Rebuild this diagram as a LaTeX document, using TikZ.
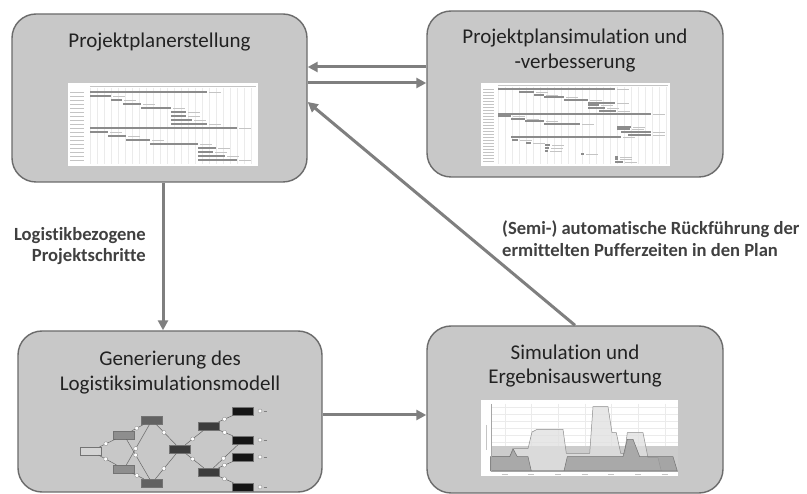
\documentclass[tikz,border=0pt]{standalone}
\usepackage{fontspec}
\setmainfont{Carlito}[Ligatures=NoCommon]
\usetikzlibrary{arrows.meta}
\definecolor{boxfill}{HTML}{C8C8C8}
\definecolor{boxline}{HTML}{6B6B6B}
\definecolor{arrowgray}{HTML}{7F7F7F}
\definecolor{titletext}{HTML}{222222}
\definecolor{lbltext}{HTML}{404040}
\definecolor{barcol}{HTML}{8C8C8C}
\definecolor{gridcol}{HTML}{EBEBEB}
\definecolor{txtline}{HTML}{C4C4C4}
\definecolor{nA}{HTML}{D4D4D4}
\definecolor{nB}{HTML}{8E8E8E}
\definecolor{nC}{HTML}{626262}
\definecolor{nD}{HTML}{3C3C3C}
\definecolor{nE}{HTML}{151515}
\begin{document}
\begin{tikzpicture}[x=1pt,y=-1pt,
  box/.style={draw=boxline, line width=1.4pt, fill=boxfill, rounded corners=24pt, inner sep=0pt},
  title/.style={anchor=base, text=titletext, font=\fontsize{21}{25}\selectfont, inner sep=0pt},
  lbl/.style={text=lbltext, font=\bfseries\fontsize{18.6}{22}\selectfont, inner sep=0pt},
  conn/.style={draw=arrowgray, line width=3pt, -{Triangle[length=10pt,width=10pt]}},
  bar/.style={fill=barcol, draw=none},
  netnode/.style={minimum width=21pt, minimum height=8pt, inner sep=0pt, draw=black!55, line width=0.3pt},
  netedge/.style={draw=black!60, line width=0.5pt},
  circ/.style={circle, draw=black!50, fill=white, line width=0.3pt, minimum size=4pt, inner sep=0pt}]
\useasboundingbox (0,0) rectangle (807,494);
\fill[white] (0,0) rectangle (807,494);

% boxes
\node[box, minimum width=295pt, minimum height=168pt] (b1) at (159.5,98) {};
\node[box, minimum width=296pt, minimum height=166pt] (b2) at (575,94) {};
\node[box, minimum width=304pt, minimum height=161pt] (b3) at (170,411.5) {};
\node[box, minimum width=296pt, minimum height=167pt] (b4) at (575,409.5) {};

% titles
\node[title] (t1) at (159.5,48) {Projektplanerstellung};
\node[title] (t2a) at (575,44) {Projektplansimulation und};
\node[title] (t2b) at (575,69) {-verbesserung};
\node[title] (t3a) at (170,366) {Generierung des};
\node[title] (t3b) at (170,391) {Logistiksimulationsmodell};
\node[title] (t4a) at (575,360) {Simulation und};
\node[title] (t4b) at (575,384) {Ergebnisauswertung};

% ---------- Gantt 1 ----------
\fill[white] (68,83) rectangle (258,166);
\foreach \x in {90,97,...,256} \draw[gridcol, line width=0.3pt] (\x,88) -- (\x,164);
\draw[txtline, line width=0.4pt] (90,86) -- (256,86);
\foreach \y in {92,96,...,160} \draw[txtline, line width=0.8pt] (70,\y) -- (84,\y);
\foreach \y/\a/\b in {92/90/207,96/90/111,100/111/122,104/123/141,108/141/171,112/171/186,116/171/186,120/171/192,124/171/207,128/90/237,132/90/108,136/108/126,140/126/150,144/150/198,148/198/216,152/198/213,156/198/225,160/198/237}
{
  \fill[barcol] (\a,\y-1.2) rectangle (\b,\y+1.2);
  \draw[txtline, line width=0.7pt] (\b+2,\y) -- (\b+14,\y);
}

% ---------- Gantt 2 ----------
\fill[white] (481,83) rectangle (670,166);
\foreach \x in {498,505,...,668} \draw[gridcol, line width=0.3pt] (\x,87) -- (\x,164);
\draw[txtline, line width=0.4pt] (498,85) -- (668,85);
\foreach \y in {89,92,...,162} \draw[txtline, line width=0.6pt] (483,\y) -- (494,\y);
\foreach \y/\a/\b in {89/498/615,92/519/534,95/534/544,97/544/564,100/564/588,103/588/615,105/588/599,108/588/605,111/599/616,114/498/651,116/498/511,119/511/525,121/525/544,124/544/580,127/617/631,129/617/630,132/621/651,135/628/651,137/511/621,140/512/518,143/526/531,145/545/550,148/545/549,151/545/548,154/581/584,157/615/618,159/615/618,162/615/623}
{
  \fill[barcol] (\a,\y-0.9) rectangle (\b,\y+0.9);
  \draw[txtline, line width=0.6pt] (\b+2,\y) -- (\b+14,\y);
}

% ---------- Network ----------
\node[netnode, fill=nA] (e) at (91,451) {};
\node[netnode, fill=nB] (na) at (124,435) {};
\node[netnode, fill=nB] (nb) at (124,469) {};
\node[netnode, fill=nC] (nc) at (152,420) {};
\node[netnode, fill=nC] (nd) at (152,483) {};
\node[netnode, fill=nD] (ne) at (180,449) {};
\node[netnode, fill=nD] (nf) at (209,426) {};
\node[netnode, fill=nD] (ng) at (209,472) {};
\node[netnode, fill=nE] (o1) at (243,411) {};
\node[netnode, fill=nE] (o2) at (243,440) {};
\node[netnode, fill=nE] (o3) at (243,457) {};
\node[netnode, fill=nE] (o4) at (243,487) {};
\foreach \a/\b in {e/na,e/nb,na/nc,na/nd,nb/nc,nb/nd,nc/ne,nd/ne,ne/nf,ne/ng,nf/o1,nf/o2,ng/o2,ng/o3,ng/o4}
  \draw[netedge] (\a) -- node[circ, pos=0.4]{} (\b);
\foreach \o/\k in {o1/k1,o2/k2,o3/k3,o4/k4}{
  \node[circ] (\k) at ([xshift=17pt]\o.center) {};
  \draw[black!50, line width=0.4pt] (\k.east) ++(1.5pt,0) -- ++(3pt,0);
}

% ---------- Chart ----------
\fill[white] (481,400) rectangle (678,476);
\foreach \x in {504.7,531.3,558,584.7,611.3,638,664.7} \draw[gridcol, line width=0.4pt] (\x,404) -- (\x,471);
\foreach \y in {407,414,421,428,435,442} \draw[gridcol, line width=0.4pt] (491,\y) -- (678,\y);
\fill[black!20] (491,446) rectangle (678,471);
\filldraw[fill=black!12, fill opacity=0.75, draw=black!45, line width=0.5pt]
  (490.7,471) -- (490.7,456.7) -- (509.7,456.7) -- (514,448.7) -- (528,448.7) -- (532,432) -- (537.3,429.3) -- (563,429.3) -- (566.3,453.3) -- (589.7,453.3) -- (593,406.7) -- (608,406.7) -- (612,432.7) -- (616.3,432.7) -- (620.7,453.3) -- (624.7,453.3) -- (627.3,432.7) -- (643,432.7) -- (648,457.7) -- (658,457.7) -- (661.3,471) -- cycle;
\filldraw[fill=black!40, fill opacity=0.75, draw=black!55, line width=0.5pt]
  (490.7,471) -- (490.7,456.7) -- (509.7,456.7) -- (513,448.7) -- (517.3,456.7) -- (528,456.7) -- (531.3,471) -- (564,471) -- (567.3,456.7) -- (623,456.7) -- (627.3,439.3) -- (633,439.3) -- (639.7,456.7) -- (673,456.7) -- (677.3,471) -- cycle;
\draw[black!35, line width=0.4pt] (491,404) -- (491,471) -- (678,471);
\foreach \x in {504.7,531.3,558,584.7,611.3,638,664.7} \draw[txtline, line width=0.6pt] (\x-3,474) -- (\x+3,474);
\draw[txtline, line width=0.6pt] (486,425) -- (486,450);

% ---------- connectors ----------
\draw[conn] (b2.west |- 0,67) -- (b1.east |- 0,67);
\draw[conn] (b1.east |- 0,83) -- (b2.west |- 0,83);
\draw[conn] (b1.south -| 163,0) -- (b3.north -| 163,0);
\draw[conn] (b3.east |- 0,415) -- (b4.west |- 0,415);
\draw[conn] (b4.north) -- (b1.east |- 0,102);

% labels
\node[lbl, anchor=base east] (l1) at (146,241) {Logistikbezogene};
\node[lbl, anchor=base east] (l2) at (146,262) {Projektschritte};
\node[lbl, anchor=base west] (l3) at (502,235) {(Semi-) automatische Rückführung der};
\node[lbl, anchor=base west] (l4) at (502,257) {ermittelten Pufferzeiten in den Plan};
\end{tikzpicture}
\end{document}
